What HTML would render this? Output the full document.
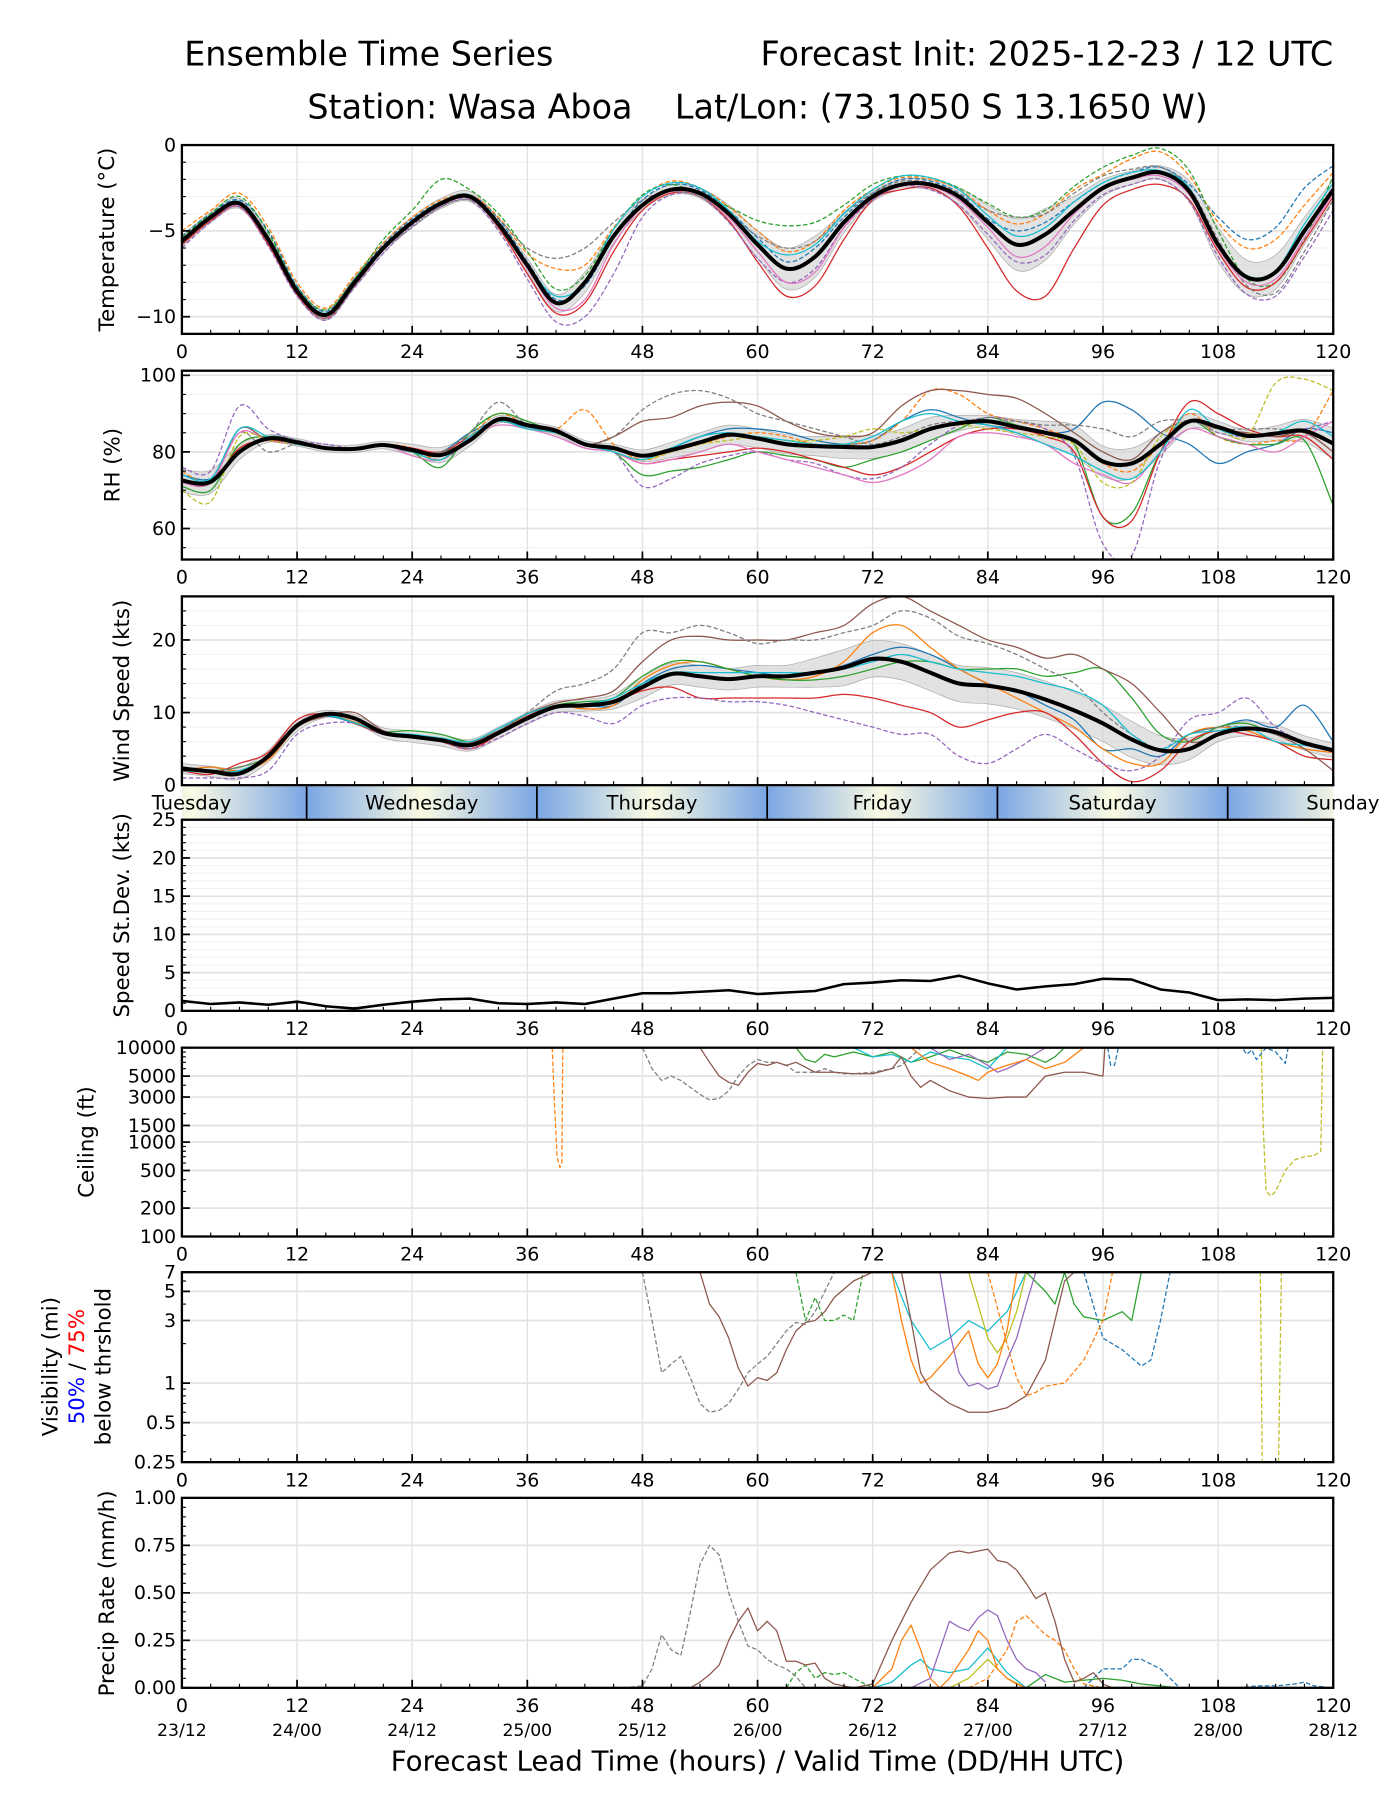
<!DOCTYPE html>
<html><head><meta charset="utf-8"><title>Ensemble Time Series</title>
<style>
html,body{margin:0;padding:0;background:#fff;}
svg{display:block;font-family:"DejaVu Sans","Liberation Sans",sans-serif;}
</style></head>
<body>
<svg id="chart" xmlns="http://www.w3.org/2000/svg" width="1400" height="1800" viewBox="0 0 1216 1563.43">
<rect x="0" y="0" width="1216" height="1563.43" fill="#fff"/>
<text x="160" y="57" font-size="29">Ensemble Time Series</text>
<text x="1158" y="57" font-size="29" text-anchor="end">Forecast Init: 2025-12-23 / 12 UTC</text>
<text x="658" y="103" font-size="29" text-anchor="middle" xml:space="preserve" style="white-space:pre">Station: Wasa Aboa    Lat/Lon: (73.1050 S 13.1650 W)</text>
<g id="plots"></g>
<text x="658" y="1538" font-size="24" text-anchor="middle">Forecast Lead Time (hours) / Valid Time (DD/HH UTC)</text>
</svg>
<script>
// ---------- data ----------
const hours3 = [0,3,6,9,12,15,18,21,24,27,30,33,36,39,42,45,48,51,54,57,60,63,66,69,72,75,78,81,84,87,90,93,96,99,102,105,108,111,114,117,120];
const xTicks = [0,12,24,36,48,60,72,84,96,108,120];
const dateLabels = ["23/12","24/00","24/12","25/00","25/12","26/00","26/12","27/00","27/12","28/00","28/12"];
const dayNames = ["Tuesday","Wednesday","Thursday","Friday","Saturday","Sunday"];
const dayCenters = [1,25,49,73,97,121];
const dayBounds = [13,37,61,85,109];

const tempMean = [-5.6,-4.2,-3.4,-5.5,-8.5,-9.9,-8.0,-6.0,-4.5,-3.4,-3.0,-4.6,-7.0,-9.2,-8.0,-5.3,-3.5,-2.6,-2.8,-4.0,-5.8,-7.2,-6.5,-4.5,-3.0,-2.3,-2.3,-3.0,-4.5,-5.8,-5.2,-3.8,-2.5,-1.9,-1.6,-2.7,-5.8,-7.7,-7.4,-5.0,-2.6];
const tempSpread = [0.3,0.3,0.3,0.3,0.3,0.3,0.3,0.3,0.3,0.3,0.3,0.3,0.4,0.5,0.6,0.4,0.3,0.3,0.3,0.5,0.8,1.2,1.2,0.6,0.3,0.3,0.3,0.5,1.0,1.5,1.5,0.8,0.5,0.4,0.4,0.6,1.0,1.0,1.0,0.8,0.6];
const tempM1 = [-5.3,-4.0,-3.2,-5.0,-8.2,-9.7,-7.8,-5.8,-4.3,-3.3,-2.9,-4.3,-6.8,-9.0,-8.2,-5.4,-3.2,-2.3,-2.6,-3.8,-5.4,-6.8,-6.0,-4.2,-2.8,-2.0,-2.1,-2.8,-4.3,-5.0,-4.5,-3.3,-2.2,-1.6,-1.3,-2.3,-4.2,-5.5,-4.8,-2.5,-1.2];
const tempM2 = [-5.0,-3.8,-2.8,-4.8,-8.0,-9.5,-7.6,-5.7,-4.2,-3.2,-2.9,-4.2,-6.3,-7.2,-7.0,-4.8,-3.0,-2.1,-2.5,-3.6,-5.0,-6.2,-5.6,-3.8,-2.6,-1.9,-2.0,-2.6,-3.8,-4.6,-4.0,-2.6,-1.7,-0.8,-0.4,-1.8,-4.5,-6.0,-5.5,-3.5,-1.6];
const tempM3 = [-5.4,-4.0,-3.0,-5.1,-8.3,-9.6,-7.8,-5.5,-3.8,-2.0,-2.6,-4.0,-6.2,-8.4,-7.6,-4.9,-2.9,-2.3,-2.9,-3.6,-4.4,-4.7,-4.5,-3.5,-2.3,-1.8,-1.9,-2.5,-3.4,-4.2,-3.8,-2.4,-1.3,-0.6,-0.2,-1.5,-5.0,-7.8,-8.0,-5.5,-1.8];
const tempM4 = [-5.8,-4.4,-3.6,-5.8,-8.7,-10.1,-8.2,-6.1,-4.6,-3.5,-3.1,-4.8,-7.5,-9.8,-9.2,-6.2,-3.8,-2.8,-3.0,-4.4,-6.8,-8.8,-8.2,-5.5,-3.2,-2.6,-2.5,-3.6,-6.0,-8.5,-8.8,-6.0,-3.5,-2.6,-2.3,-3.2,-6.2,-8.3,-8.0,-5.6,-3.0];
const tempM5 = [-6.0,-4.5,-3.6,-5.9,-8.8,-10.2,-8.3,-6.3,-4.7,-3.6,-3.2,-5.0,-7.8,-10.3,-10.0,-7.5,-4.2,-2.9,-3.0,-4.5,-6.6,-8.0,-7.2,-4.8,-3.2,-2.4,-2.6,-3.5,-5.2,-6.8,-6.4,-4.4,-2.9,-2.3,-2.0,-3.3,-6.5,-8.7,-8.8,-6.5,-3.8];
const tempM6 = [-5.7,-4.3,-3.5,-5.6,-8.6,-10.1,-8.2,-6.1,-4.8,-3.6,-3.2,-4.3,-6.0,-6.6,-6.0,-4.5,-3.2,-2.7,-3.0,-4.0,-5.3,-6.0,-5.6,-4.0,-2.8,-2.1,-2.2,-2.8,-3.8,-4.2,-4.0,-2.8,-1.8,-1.4,-1.3,-2.5,-5.5,-8.2,-8.6,-6.2,-3.2];
const tempM7 = [-5.5,-4.1,-3.3,-5.4,-8.4,-9.8,-7.9,-5.9,-4.4,-3.3,-2.9,-4.5,-7.0,-8.8,-8.0,-4.9,-3.0,-2.2,-2.5,-3.8,-5.6,-6.4,-5.8,-4.0,-2.6,-1.8,-1.9,-2.6,-4.1,-5.3,-4.8,-3.3,-2.2,-1.6,-1.5,-2.5,-5.8,-7.6,-7.3,-4.6,-2.2];
const tempM8 = [-5.6,-4.3,-3.5,-5.6,-8.6,-10.0,-8.1,-6.1,-4.6,-3.5,-3.1,-4.7,-7.2,-9.5,-9.0,-5.8,-3.6,-2.7,-2.9,-4.2,-6.2,-8.0,-7.4,-4.8,-3.1,-2.4,-2.4,-3.2,-4.8,-6.5,-5.9,-4.0,-2.6,-2.0,-1.8,-2.9,-6.0,-8.0,-7.8,-5.4,-2.8];

const rhMean = [72.5,72.2,80,83.5,82.5,81,80.8,81.8,80.5,79.2,83,88.5,87,85.5,82,81,79,80.5,82.5,84.5,83.5,82,81.5,81.3,81.3,83,86,87.5,88,86.5,85,83,77.5,77,82,88,86.5,84.2,84.8,85.5,82.2];
const rhSpread = [3,3,2,1,1,1,1,1,1.5,2,1.5,1,1,1,1,1,1.5,2,2.5,2.5,2.5,2.5,2.5,3,3,3,3,2,1.5,2,3,4,4,4,3,2,1.5,1.5,2,3,4];
const rhM1 = [74,73,80,84,83,81,81,81.5,80,80,85,88,86.5,85,82,81,79,81,84,86,86,85,83,82,83,88,91,89,87,86,85,86,93,91,85,82,77,80,82,86,85];
const rhM2 = [75,72,81,83,82,81,81,82,81,78,84,90,87,86,91,82,78,80,82,84,85,84,82,82,83,88,96,95,90,88,86,83,77,75,82,90,84,82,83,84,96];
const rhM3 = [71,70,82,84,83,81,81,82,80,76,85,90,88,85,82,80,74,75,76,78,80,79,78,76,78,80,83,86,89,87,85,82,63,64,80,88,84,82,82,83,66];
const rhM4 = [73,72,81,83,82,81,81,82,81,80,84,88,86,85,82,80,77,78,79,80,81,80,78,76,74,76,80,84,86,86,84,80,63,62,80,93,90,86,84,84,78];
const rhM5 = [76,75,92,86,83,82,81,82,80,78,83,88,86,85,82,80,71,73,77,79,80,78,77,74,73,76,82,87,89,88,86,79,56,53,78,88,85,84,85,86,88];
const rhM6 = [72,72,86,83,82,81,81,82,80,80,83,88,87,86,82,84,88,89,92,93,92,88,85,84,85,92,96,96,95,94,90,85,80,78,85,88,86,85,84,85,80];
const rhM7 = [73,72,85,80,82,81,81,82,80,80,85,93,87,86,82,84,91,95,96,94,90,88,86,84,82,84,87,88,88,88,87,87,86,84,88,88,86,86,86,85,82];
const rhM8 = [72,72,85,83,82,81,81,82,79,78,84,87,86,84,81,80,77,78,80,82,80,78,76,74,72,74,78,84,85,84,82,77,74,72,80,86,84,82,80,84,88];
const rhM9 = [70,67,84,83,82,81,81,82,80,78,84,88,86,85,82,80,78,80,82,83,84,83,83,84,86,85,86,87,86,85,84,82,72,72,84,88,86,84,98,99,96];
const rhM10 = [74,73,86,84,82,81,81,82,80,78,84,88,86,85,82,80,78,81,84,85,84,83,82,82,84,88,90,88,87,85,82,79,75,73,80,91,86,84,85,88,84];

const windMean = [2.3,1.9,1.6,4.0,8.2,9.8,9.2,7.2,6.7,6.2,5.5,7.2,9.2,10.8,11.0,11.5,13.5,15.3,15.0,14.6,15.0,15.0,15.5,16.2,17.4,17.0,15.5,14.0,13.7,13.0,11.8,10.3,8.5,6.3,4.8,5.0,7.0,7.8,7.3,5.8,4.8];
const windSpread = [0.7,0.7,0.8,0.8,0.8,0.5,0.5,0.7,0.8,0.8,0.8,0.8,0.8,0.8,0.8,1,1.5,1.5,1.5,1.5,1.5,1.5,2,2.5,2.5,2.5,2.5,2.5,2.5,2.5,2.5,2.5,2.5,2.5,2,1.5,1,1,1,1,1];
const windM1 = [2,2.5,2,4,8.5,9.5,8.5,7,6.5,6,5.5,7,9.5,11,11,11,14,16,16.5,16,15.5,15,15.5,16.5,18,19,18,16,14,13,11,9,5,5,4,7,8,9,8,11,6];
const windM2 = [2,2.5,2,3.5,8,9.6,8.7,7.2,6.6,6.3,6,7.5,9.5,11,10.5,11,14.5,16.5,17,16,15,14.5,15,17,21,22,19,16,14,12,10,8,5,3,3,7,8,7.5,6,5,4.5];
const windM3 = [2.5,2,2.5,4,8,9.8,8.5,7.4,7.5,7,6,7.2,9.3,11,11.5,12,15,17,17,16,15,14.5,14.5,15,16,17,17,16,16,16,15,15.5,16,12,7,6,8,8.5,7,6,5];
const windM4 = [2,1.5,3,4.5,9,9.8,8.5,7,6.5,6,5,7,9.5,11,11,11.5,13,13.5,12,12,12,12,12,12.5,12,11,10,8,9,10,10,7,3,0.5,2,6,7.5,7,6,4,3.5];
const windM5 = [1,1,1,2,7,8.5,8.5,7,6.5,6,5,6.5,8.5,10,9.5,8.5,11,12,12,11.5,11.5,11,10,9,8,7,7,4,3,5,7,5,3,2,4,9,10,12,8,6,5];
const windM6 = [2,2,2,4,8,9.5,10,7.5,6.8,6.3,5.8,7.5,9.8,11.3,12,13,17,20,20.5,20,20,20,21,22,25,26,24,22,20,19,17.5,18,16,14,10,6,7,8,7,5,2];
const windM7 = [2.5,2,2.5,4,8.5,9.8,8.5,7.2,6.8,6.3,6,7.5,10,13,14,16,21,21,22,21,19.5,20,20,21,22,24,23,20.5,19.5,18,16,14,10,7,5,7,8,8,7,6,5];
const windM8 = [2,1.8,2,4,8.2,9.6,8.6,7.3,7,6.5,6,7.8,9.8,11,11.2,12,14,15.5,15.5,15.5,15.5,15.5,15.5,16,17,18,17,16,15.5,15,14,13,11,7,5,7,7.5,8,6,5.5,5];

const sdValues = [1.3,0.9,1.1,0.8,1.2,0.6,0.3,0.8,1.2,1.5,1.6,1.0,0.9,1.1,0.9,1.6,2.3,2.3,2.5,2.7,2.2,2.4,2.6,3.5,3.7,4.0,3.9,4.6,3.6,2.8,3.2,3.5,4.2,4.1,2.8,2.4,1.4,1.5,1.4,1.6,1.7];

const ceilOrangeH = [38.6,38.8,39.1,39.4,39.6,39.7];
const ceilOrangeV = [10000,3000,700,540,600,10000];
const ceilGrayH = [48,49,50,51,52,54,55,56,57,58,59,60,61,62,63,64,65,66,67,68,69,70,72,74,75,76,77];
const ceilGrayV = [10000,6000,4500,5000,4500,3200,2800,2900,3500,5000,6500,7500,7000,7000,6500,5500,5500,5500,6000,5500,5300,5300,5500,6000,6500,8000,10000];
const ceilBrownH = [54,55,56,57,58,59,60,61,62,63,64,66,68,70,72,74,75,76,77,78,80,82,84,86,88,90,92,94,96,96.2];
const ceilBrownV = [10000,7000,5000,4300,4000,5500,6800,6500,7000,6500,7000,5500,5500,5300,5300,6000,8000,5000,3800,4500,3500,3000,2900,3000,3000,5000,5500,5500,5000,10000];
const ceilGreenH = [64,65,66,67,68,70,72,74,76,78,80,82,84,86,88,90,91,92];
const ceilGreenV = [10000,7500,7000,8500,8000,9000,8000,9000,7000,8000,9500,8000,7000,9000,8500,7000,8000,10000];
const ceilOrange2H = [76,78,80,82,83,84,85,86,88,90,92,94];
const ceilOrange2V = [10000,7000,6000,5000,4500,5500,6000,6500,7500,6000,7000,10000];
const ceilPurpleH = [78,80,82,84,85,86,88,90];
const ceilPurpleV = [10000,7500,8500,6500,5500,6000,7500,10000];
const ceilCyanH = [70,72,74,76,78,80,82,84,86];
const ceilCyanV = [10000,8000,8500,7000,9000,8000,7500,6000,10000];
const ceilBlueH = [96.5,96.8,97.2,97.6,110.5,111,111.5,112,113,114,115,115.3];
const ceilBlueV = [10000,6500,6500,10000,10000,8500,9500,7500,10000,9000,6800,10000];
const ceilOliveH = [112.5,112.7,113,113.5,114,115,116,117,118,118.7,118.9];
const ceilOliveV = [10000,1500,300,270,300,500,650,700,720,800,10000];

const visGrayH = [48,49,50,51,52,53,54,55,56,57,58,59,60,61,62,63,64,65,66,67,68];
const visGrayV = [7,3,1.2,1.4,1.6,1.1,0.7,0.6,0.62,0.7,0.9,1.2,1.4,1.6,2.0,2.5,2.9,2.8,3.5,5,7];
const visBrownH = [54,55,56,57,58,59,60,61,62,63,64,65,66,67,68,70,72,75,76,77,78,80,82,84,86,88,90,91,92,93];
const visBrownV = [7,4,3.2,2.2,1.3,0.95,1.1,1.05,1.2,1.8,2.5,2.9,3.0,3.5,4.5,6,7,7,3,1.2,0.9,0.7,0.6,0.6,0.65,0.8,1.5,3,6,7];
const visOrangeH = [74,75,76,77,78,80,82,83,84,85,86,87];
const visOrangeV = [7,3,1.5,1.0,1.1,1.6,2.5,1.4,1.1,1.4,2.5,7];
const visPurpleH = [79,80,81,82,83,84,85,86,87,88,89];
const visPurpleV = [7,2.5,1.2,0.95,1.0,0.9,0.95,1.5,2.2,4,7];
const visCyanH = [74,76,78,80,82,84,86,88];
const visCyanV = [7,3,1.8,2.2,3,2.5,3.5,7];
const visOrangeDashH = [84,86,87,88,89,90,92,94,96,97];
const visOrangeDashV = [7,2,1.1,0.8,0.85,0.95,1.0,1.5,3,7];
const visGreenH = [88,90,91,92,93,94,96,98,99,100];
const visGreenV = [7,5,4,7,4,3.2,3,3.5,3,7];
const visBlueDashH = [94,96,98,100,101,102,103];
const visBlueDashV = [7,2.2,1.8,1.35,1.5,3,7];
const visGreenDashH = [64,65,66,67,68,69,70,71];
const visGreenDashV = [7,3,4.5,3,3,3.3,3,7];
const visOliveH = [82,84,85,86,87,88];
const visOliveV = [7,2.2,1.7,2.2,3.5,7];
const visOliveDash1H = [112.4,112.6];
const visOliveDash1V = [7,0.25];
const visOliveDash2H = [114.3,114.6];
const visOliveDash2V = [0.25,7];

const prGrayH = [46,48,49,50,51,52,53,54,55,56,57,58,59,60,61,62,63,64,65];
const prGrayV = [0,0.01,0.1,0.28,0.2,0.17,0.4,0.65,0.75,0.7,0.5,0.35,0.22,0.2,0.15,0.12,0.1,0.06,0];
const prBrownH = [53,54,55,56,57,58,59,60,61,62,63,64,65,66,67,68,70,72,74,75,76,78,80,81,82,83,84,85,86,87,88,89,90,91,92,93,94,95,96,97];
const prBrownV = [0,0.03,0.07,0.12,0.25,0.35,0.42,0.3,0.35,0.3,0.14,0.14,0.12,0.13,0.05,0.02,0,0.02,0.25,0.35,0.45,0.62,0.71,0.72,0.71,0.72,0.73,0.67,0.66,0.62,0.55,0.47,0.5,0.35,0.15,0.03,0.05,0.08,0.02,0];
const prPurpleH = [76,78,79,80,81,82,83,84,85,86,87,88,89,90];
const prPurpleV = [0,0.05,0.2,0.35,0.32,0.3,0.37,0.41,0.38,0.25,0.15,0.1,0.08,0.03];
const prOrangeH = [72,74,75,76,77,78,79,80,82,83,84,85,86,87,88];
const prOrangeV = [0,0.1,0.25,0.33,0.2,0.05,0,0.05,0.2,0.3,0.25,0.1,0.05,0.02,0];
const prOrangeDashH = [82,84,86,87,88,89,90,91,92,93,94,96];
const prOrangeDashV = [0,0.05,0.2,0.35,0.38,0.33,0.28,0.25,0.2,0.1,0.02,0];
const prCyanH = [72,74,76,77,78,80,82,84,86,88];
const prCyanV = [0,0.03,0.12,0.15,0.1,0.08,0.1,0.21,0.08,0];
const prOliveH = [80,82,84,85,86,88];
const prOliveV = [0,0.05,0.15,0.1,0.05,0];
const prGreenDashH = [63,64,65,66,67,68,69,70,72];
const prGreenDashV = [0,0.08,0.12,0.05,0.08,0.07,0.08,0.05,0];
const prBlueDashH = [94,96,97,98,99,100,102,104];
const prBlueDashV = [0,0.1,0.1,0.1,0.15,0.15,0.1,0];
const prGreenH = [88,90,92,94,96,98,100,104];
const prGreenV = [0,0.07,0.03,0.04,0.05,0.04,0.02,0];
const prBlueTailH = [110,112,114,116,117,118,120];
const prBlueTailV = [0,0.01,0.01,0.02,0.03,0.01,0];

// ---------- layout ----------
const NS = "http://www.w3.org/2000/svg";
const X0 = 158, X1 = 1158;
const xs = h => X0 + h * (X1 - X0) / 120;
const C = {blue:"#1f77b4",orange:"#ff7f0e",green:"#2ca02c",red:"#d62728",purple:"#9467bd",brown:"#8c564b",pink:"#e377c2",gray:"#7f7f7f",olive:"#bcbd22",cyan:"#17becf"};
const root = document.getElementById('plots');
const TICK_FS = 16.5;

function mk(tag, attrs, parent) {
  const e = document.createElementNS(NS, tag);
  for (const k in attrs) e.setAttribute(k, attrs[k]);
  (parent || root).appendChild(e);
  return e;
}
function linScale(lo, hi, top, bot) { return v => bot - (v - lo) / (hi - lo) * (bot - top); }
function logScale(lo, hi, top, bot) { return v => bot - (Math.log(v) - Math.log(lo)) / (Math.log(hi) - Math.log(lo)) * (bot - top); }
function smoothPath(pts) {
  let d = "M" + pts[0][0].toFixed(2) + "," + pts[0][1].toFixed(2);
  for (let i = 0; i < pts.length - 1; i++) {
    const p0 = pts[Math.max(0, i - 1)], p1 = pts[i], p2 = pts[i + 1], p3 = pts[Math.min(pts.length - 1, i + 2)];
    const c1x = p1[0] + (p2[0] - p0[0]) / 6, c1y = p1[1] + (p2[1] - p0[1]) / 6;
    const c2x = p2[0] - (p3[0] - p1[0]) / 6, c2y = p2[1] - (p3[1] - p1[1]) / 6;
    d += "C" + c1x.toFixed(2) + "," + c1y.toFixed(2) + " " + c2x.toFixed(2) + "," + c2y.toFixed(2) + " " + p2[0].toFixed(2) + "," + p2[1].toFixed(2);
  }
  return d;
}
function linePath(pts) { return pts.map((p, i) => (i ? "L" : "M") + p[0].toFixed(2) + "," + p[1].toFixed(2)).join(""); }

let clipId = 0;
function panel(name, top, bot, ys, majors, minors, labelFn, minorGrid, xLabelY) {
  const g = mk('g', {});
  
  
  const cid = 'clip' + (clipId++);
  const cp = mk('clipPath', {id: cid}, g);
  mk('rect', {x: X0, y: top, width: X1 - X0, height: bot - top}, cp);
  if (minorGrid) minors.forEach(v => {
    const ln = mk('line', {x1: X0, x2: X1, y1: ys(v), y2: ys(v), stroke: "#f2f2f2", "stroke-width": 1}, g);
    
    
  });
  majors.forEach(v => {
    const ln = mk('line', {x1: X0, x2: X1, y1: ys(v), y2: ys(v), stroke: "#e3e3e3", "stroke-width": 1.5}, g);
    
    
  });
  xTicks.forEach(h => {
    const ln = mk('line', {x1: xs(h), x2: xs(h), y1: top, y2: bot, stroke: "#e3e3e3", "stroke-width": 1.2}, g);
    
    
  });
  const plot = mk('g', {"clip-path": "url(#" + cid + ")"}, g);
  
  
  for (let h = 0; h <= 120; h += 3) {
    const major = h % 12 === 0;
    const t = mk('line', {x1: xs(h), x2: xs(h), y1: bot, y2: bot - (major ? 7 : 3.5), stroke: "#000", "stroke-width": major ? 1.5 : 1}, g);
    
    
  }
  minors.forEach(v => {
    const t = mk('line', {x1: X0, x2: X0 + 3.5, y1: ys(v), y2: ys(v), stroke: "#000", "stroke-width": 1}, g);
    
    
  });
  majors.forEach(v => {
    const t = mk('line', {x1: X0, x2: X0 + 7, y1: ys(v), y2: ys(v), stroke: "#000", "stroke-width": 1.5}, g);
    
    
    const tx = mk('text', {x: X0 - 5, y: ys(v) + 5.5, "font-size": TICK_FS, "text-anchor": "end"}, g);
    tx.textContent = labelFn(v);
    
    
  });
  if (xLabelY) xTicks.forEach(h => {
    const tx = mk('text', {x: xs(h), y: xLabelY, "font-size": TICK_FS, "text-anchor": "middle"}, g);
    tx.textContent = String(h);
    
    
  });
  const fr = mk('rect', {x: X0, y: top, width: X1 - X0, height: bot - top, fill: "none", stroke: "#000", "stroke-width": 2}, g);
  
  
  return {g, plot, ys};
}
function yLabel(lines, x, cy, name) {
  const t = mk('text', {transform: "translate(" + x + "," + cy + ") rotate(-90)", "font-size": 18.5, "text-anchor": "middle"});
  t.textContent = lines;
  
  
  return t;
}
function band(P, mean, spread, name) {
  const up = hours3.map((h, i) => [xs(h), P.ys(mean[i] + spread[i])]);
  const dn = hours3.map((h, i) => [xs(h), P.ys(mean[i] - spread[i])]).reverse();
  const d = smoothPath(up) + "L" + smoothPath(dn).slice(1) + "Z";
  const p = mk('path', {d, fill: "#cfcfcf", "fill-opacity": 0.6, stroke: "#aaa", "stroke-width": 0.6}, P.plot);
  
  
}
function member(P, vals, color, dashed, name) {
  const pts = hours3.map((h, i) => [xs(h), P.ys(vals[i])]);
  const p = mk('path', {d: smoothPath(pts), fill: "none", stroke: color, "stroke-width": 1.1, "stroke-dasharray": dashed ? "4,2" : "none"}, P.plot);
  
  
}
function meanLine(P, vals, name) {
  const pts = hours3.map((h, i) => [xs(h), P.ys(vals[i])]);
  const p = mk('path', {d: smoothPath(pts), fill: "none", stroke: "#000", "stroke-width": 3.5, "stroke-linejoin": "round"}, P.plot);
  
  
}
function sparse(P, hs, vs, color, dashed, name) {
  const pts = hs.map((h, i) => [xs(h), P.ys(vs[i])]);
  const p = mk('path', {d: linePath(pts), fill: "none", stroke: color, "stroke-width": 1.1, "stroke-dasharray": dashed ? "4,2" : "none", "stroke-linejoin": "round"}, P.plot);
  
  
}
const range = (a, b, s) => { const r = []; for (let v = a; v <= b + 1e-9; v += s) r.push(+v.toFixed(4)); return r; };

// ---------- panel 1: temperature ----------
const P1 = panel('temperature', 126, 290, linScale(-11, 0, 126, 290), [0, -5, -10], range(-11, 0, 1), v => v < 0 ? "\u2212" + Math.abs(v) : String(v), true, 311);
band(P1, tempMean, tempSpread, 'temperature-spread-band');
member(P1, tempM1, C.blue, true, 'temperature-member-1');
member(P1, tempM2, C.orange, true, 'temperature-member-2');
member(P1, tempM3, C.green, true, 'temperature-member-3');
member(P1, tempM4, C.red, false, 'temperature-member-4');
member(P1, tempM5, C.purple, true, 'temperature-member-5');
member(P1, tempM6, C.gray, true, 'temperature-member-6');
member(P1, tempM7, C.cyan, false, 'temperature-member-7');
member(P1, tempM8, C.pink, false, 'temperature-member-8');
meanLine(P1, tempMean, 'temperature-mean-line');
yLabel("Temperature (\u00B0C)", 99, 208, 'temperature-y-axis-title');

// ---------- panel 2: RH ----------
const P2 = panel('rh', 322, 486, linScale(51.9, 101.2, 322, 486), [60, 80, 100], range(55, 100, 5), v => String(v), true, 507);
band(P2, rhMean, rhSpread, 'rh-spread-band');
member(P2, rhM1, C.blue, false, 'rh-member-1');
member(P2, rhM2, C.orange, true, 'rh-member-2');
member(P2, rhM3, C.green, false, 'rh-member-3');
member(P2, rhM4, C.red, false, 'rh-member-4');
member(P2, rhM5, C.purple, true, 'rh-member-5');
member(P2, rhM6, C.brown, false, 'rh-member-6');
member(P2, rhM7, C.gray, true, 'rh-member-7');
member(P2, rhM8, C.pink, false, 'rh-member-8');
member(P2, rhM9, C.olive, true, 'rh-member-9');
member(P2, rhM10, C.cyan, false, 'rh-member-10');
meanLine(P2, rhMean, 'rh-mean-line');
yLabel("RH (%)", 104, 404, 'rh-y-axis-title');

// ---------- panel 3: wind ----------
const P3 = panel('wind', 518, 682, linScale(0, 26, 518, 682), [0, 10, 20], range(0, 26, 2), v => String(v), true, 0);
band(P3, windMean, windSpread, 'wind-spread-band');
member(P3, windM1, C.blue, false, 'wind-member-1');
member(P3, windM2, C.orange, false, 'wind-member-2');
member(P3, windM3, C.green, false, 'wind-member-3');
member(P3, windM4, C.red, false, 'wind-member-4');
member(P3, windM5, C.purple, true, 'wind-member-5');
member(P3, windM6, C.brown, false, 'wind-member-6');
member(P3, windM7, C.gray, true, 'wind-member-7');
member(P3, windM8, C.cyan, false, 'wind-member-8');
meanLine(P3, windMean, 'wind-mean-line');
yLabel("Wind Speed (kts)", 112, 600, 'wind-y-axis-title');

// ---------- day band ----------
const defs = mk('defs', {});
const grad = mk('linearGradient', {id: "dayGrad", x1: "0", x2: "1", y1: "0", y2: "0"}, defs);
mk('stop', {offset: "0", "stop-color": "#7aa6e4"}, grad);
mk('stop', {offset: "0.5", "stop-color": "#fbfbe3"}, grad);
mk('stop', {offset: "1", "stop-color": "#7aa6e4"}, grad);
const bandClip = mk('clipPath', {id: "bandClip"}, defs);
mk('rect', {x: X0, y: 683, width: X1 - X0, height: 28}, bandClip);
const dayG = mk('g', {"clip-path": "url(#bandClip)"});


dayCenters.forEach((c, i) => {
  const r = mk('rect', {x: xs(c - 12), y: 683, width: xs(c + 12) - xs(c - 12), height: 28, fill: "url(#dayGrad)"}, dayG);
  
  
});
dayBounds.forEach(h => {
  const ln = mk('line', {x1: xs(h), x2: xs(h), y1: 683, y2: 711, stroke: "#000", "stroke-width": 1.5}, dayG);
  
  
});
dayNames.forEach((n, i) => {
  const t = mk('text', {x: xs(dayCenters[i]), y: 703, "font-size": 17, "text-anchor": "middle"});
  t.textContent = n;
  
  
});

// ---------- panel 4: speed sd ----------
const P4 = panel('speed-stdev', 712, 878, linScale(0, 25, 712, 878), [0, 5, 10, 15, 20, 25], range(0, 25, 1), v => String(v), true, 899);
const sdPts = hours3.map((h, i) => [xs(h), P4.ys(sdValues[i])]);
const sdLine = mk('path', {d: linePath(sdPts), fill: "none", stroke: "#000", "stroke-width": 2.2, "stroke-linejoin": "round"}, P4.plot);


yLabel("Speed St.Dev. (kts)", 112, 795, 'speed-stdev-y-axis-title');

// ---------- panel 5: ceiling ----------
const P5 = panel('ceiling', 910, 1074, logScale(100, 10000, 910, 1074), [100, 200, 500, 1000, 1500, 3000, 5000, 10000], [300,400,600,700,800,900,2000,4000,6000,7000,8000,9000], v => String(v), false, 1095);
sparse(P5, ceilGreenH, ceilGreenV, C.green, false, 'ceiling-member-green');
sparse(P5, ceilCyanH, ceilCyanV, C.cyan, false, 'ceiling-member-cyan');
sparse(P5, ceilPurpleH, ceilPurpleV, C.purple, false, 'ceiling-member-purple');
sparse(P5, ceilOrange2H, ceilOrange2V, C.orange, false, 'ceiling-member-orange-solid');
sparse(P5, ceilOrangeH, ceilOrangeV, C.orange, true, 'ceiling-member-orange');
sparse(P5, ceilGrayH, ceilGrayV, C.gray, true, 'ceiling-member-gray');
sparse(P5, ceilBrownH, ceilBrownV, C.brown, false, 'ceiling-member-brown');
sparse(P5, ceilBlueH, ceilBlueV, C.blue, true, 'ceiling-member-blue');
sparse(P5, ceilOliveH, ceilOliveV, C.olive, true, 'ceiling-member-olive');
yLabel("Ceiling (ft)", 81, 992, 'ceiling-y-axis-title');

// ---------- panel 6: visibility ----------
const P6 = panel('visibility', 1105, 1270, logScale(0.25, 7, 1105, 1270), [0.25, 0.5, 1, 3, 5, 7], [0.3,0.4,0.6,0.7,0.8,0.9,2,4,6], v => String(v), false, 1291);
sparse(P6, visGreenDashH, visGreenDashV, C.green, true, 'visibility-member-green-dashed');
sparse(P6, visCyanH, visCyanV, C.cyan, false, 'visibility-member-cyan');
sparse(P6, visOliveH, visOliveV, C.olive, false, 'visibility-member-olive');
sparse(P6, visGreenH, visGreenV, C.green, false, 'visibility-member-green');
sparse(P6, visBlueDashH, visBlueDashV, C.blue, true, 'visibility-member-blue');
sparse(P6, visOrangeH, visOrangeV, C.orange, false, 'visibility-member-orange');
sparse(P6, visOrangeDashH, visOrangeDashV, C.orange, true, 'visibility-member-orange-dashed');
sparse(P6, visPurpleH, visPurpleV, C.purple, false, 'visibility-member-purple');
sparse(P6, visGrayH, visGrayV, C.gray, true, 'visibility-member-gray');
sparse(P6, visBrownH, visBrownV, C.brown, false, 'visibility-member-brown');
sparse(P6, visOliveDash1H, visOliveDash1V, C.olive, true, 'visibility-member-olive-dashed-1');
sparse(P6, visOliveDash2H, visOliveDash2V, C.olive, true, 'visibility-member-olive-dashed-2');
yLabel("Visibility (mi)", 50, 1187, 'visibility-y-axis-title');
const vl2 = mk('text', {transform: "translate(73,1187) rotate(-90)", "font-size": 18.5, "text-anchor": "middle"});


const s1 = mk('tspan', {fill: "#0000ff"}, vl2); s1.textContent = "50%";
const s2 = mk('tspan', {fill: "#000"}, vl2); s2.textContent = " / ";
const s3 = mk('tspan', {fill: "#ff0000"}, vl2); s3.textContent = "75%";
yLabel("below thrshold", 96, 1187, 'visibility-below-threshold-label');

// ---------- panel 7: precip ----------
const P7 = panel('precip', 1301, 1466, linScale(0, 1, 1301, 1466), [0, 0.25, 0.5, 0.75, 1], range(0, 1, 0.05), v => v.toFixed(2), false, 1487);
sparse(P7, prGreenDashH, prGreenDashV, C.green, true, 'precip-member-green-dashed');
sparse(P7, prGreenH, prGreenV, C.green, false, 'precip-member-green');
sparse(P7, prOliveH, prOliveV, C.olive, false, 'precip-member-olive');
sparse(P7, prCyanH, prCyanV, C.cyan, false, 'precip-member-cyan');
sparse(P7, prBlueDashH, prBlueDashV, C.blue, true, 'precip-member-blue');
sparse(P7, prBlueTailH, prBlueTailV, C.blue, true, 'precip-member-blue-tail');
sparse(P7, prOrangeH, prOrangeV, C.orange, false, 'precip-member-orange');
sparse(P7, prOrangeDashH, prOrangeDashV, C.orange, true, 'precip-member-orange-dashed');
sparse(P7, prPurpleH, prPurpleV, C.purple, false, 'precip-member-purple');
sparse(P7, prGrayH, prGrayV, C.gray, true, 'precip-member-gray');
sparse(P7, prBrownH, prBrownV, C.brown, false, 'precip-member-brown');
yLabel("Precip Rate (mm/h)", 99, 1384, 'precip-y-axis-title');
xTicks.forEach((h, i) => {
  const t = mk('text', {x: xs(h), y: 1508, "font-size": 15, "text-anchor": "middle"});
  t.textContent = dateLabels[i];
  
  
});
</script>
</body></html>
